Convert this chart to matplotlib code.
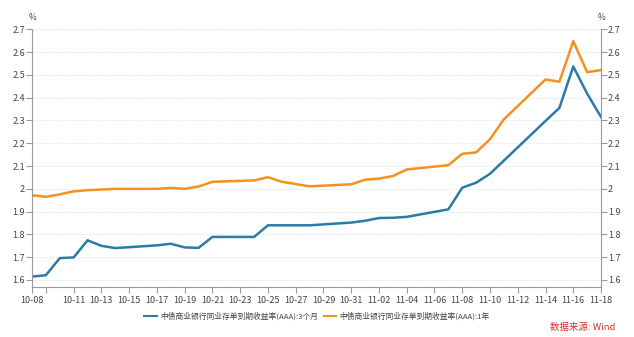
import datetime as dt

import matplotlib
matplotlib.use("Agg")
import matplotlib.pyplot as plt
from matplotlib.ticker import MultipleLocator, FuncFormatter

plt.rcParams['font.family'] = ['Noto Sans CJK SC', 'DejaVu Sans']

dates = ["10-08", "10-09", "10-10", "10-11", "10-12", "10-13", "10-14", "10-17",
         "10-18", "10-19", "10-20", "10-21", "10-24", "10-25", "10-26", "10-27",
         "10-28", "10-31", "11-01", "11-02", "11-03", "11-04", "11-07", "11-08",
         "11-09", "11-10", "11-11", "11-14", "11-15", "11-16", "11-17", "11-18"]

rate_3m = [1.615, 1.621, 1.696, 1.699, 1.774, 1.750, 1.740, 1.752,
           1.759, 1.743, 1.741, 1.789, 1.789, 1.840, 1.840, 1.840,
           1.840, 1.852, 1.860, 1.872, 1.873, 1.877, 1.910, 2.005,
           2.027, 2.066, 2.124, 2.298, 2.355, 2.537, 2.418, 2.315]

rate_1y = [1.972, 1.965, 1.976, 1.989, 1.994, 1.997, 2.000, 2.000,
           2.004, 2.000, 2.010, 2.031, 2.037, 2.051, 2.031, 2.021,
           2.011, 2.020, 2.040, 2.045, 2.056, 2.085, 2.104, 2.154,
           2.160, 2.218, 2.305, 2.480, 2.470, 2.648, 2.512, 2.521]

label_3m = "中债商业银行同业存单到期收益率(AAA):3个月"
label_1y = "中债商业银行同业存单到期收益率(AAA):1年"


def to_date(s):
    m, d = s.split("-")
    return dt.date(2022, int(m), int(d))


x = [to_date(s) for s in dates]

fig = plt.figure(figsize=(6.34, 3.37), dpi=100)
ax = fig.add_axes([0.0505, 0.1475, 0.8975, 0.7655])

ax.plot(x, rate_3m, color="#2a7ba6", lw=1.8, label=label_3m)
ax.plot(x, rate_1y, color="#f7901e", lw=1.8, label=label_1y)

ax.set_xlim(to_date("10-08"), to_date("11-18"))
ax.set_ylim(1.568, 2.7)

# x ticks: 10-08 plus every 2 days from 10-09 (10-09 label hidden)
ticks = [to_date("10-08")] + [to_date("10-09") + dt.timedelta(days=2 * i) for i in range(21)]
ax.set_xticks(ticks)
ax.set_xticklabels(["10-08", ""] + [t.strftime("%m-%d") for t in ticks[2:]])

ax.yaxis.set_major_locator(MultipleLocator(0.1))
ax.yaxis.set_major_formatter(FuncFormatter(lambda v, p: "%g" % round(v, 1)))
ax.tick_params(axis="y", which="both", left=True, right=True, labelleft=True, labelright=True,
               length=4, width=0.8, color="#999999", labelsize=6.5, labelcolor="#444444", pad=1)
ax.tick_params(axis="x", length=4, width=0.8, color="#999999", labelsize=6.5, labelcolor="#444444", pad=2)

ax.grid(axis="y", linestyle=(0, (2, 2)), color="#e0e0e0", lw=0.6)
ax.set_axisbelow(True)

for s in ["left", "right", "bottom"]:
    ax.spines[s].set_color("#999999")
    ax.spines[s].set_linewidth(0.8)
ax.spines["top"].set_visible(False)

ax.text(0.0, 1.03, "%", transform=ax.transAxes, ha="center", va="bottom", fontsize=6, color="#444444")
ax.text(1.0, 1.03, "%", transform=ax.transAxes, ha="center", va="bottom", fontsize=6, color="#444444")

leg = fig.legend(loc="center", bbox_to_anchor=(0.5, 0.062), ncol=2, frameon=False, fontsize=5.6,
                 handlelength=1.6, handletextpad=0.4, columnspacing=0.8, labelcolor="#444444")
for h in leg.get_lines():
    h.set_linewidth(1.5)

fig.text(0.971, 0.03, "数据来源: Wind", ha="right", va="center", fontsize=6.8, color="#d9302c")

fig.savefig("out.png", dpi=100)
